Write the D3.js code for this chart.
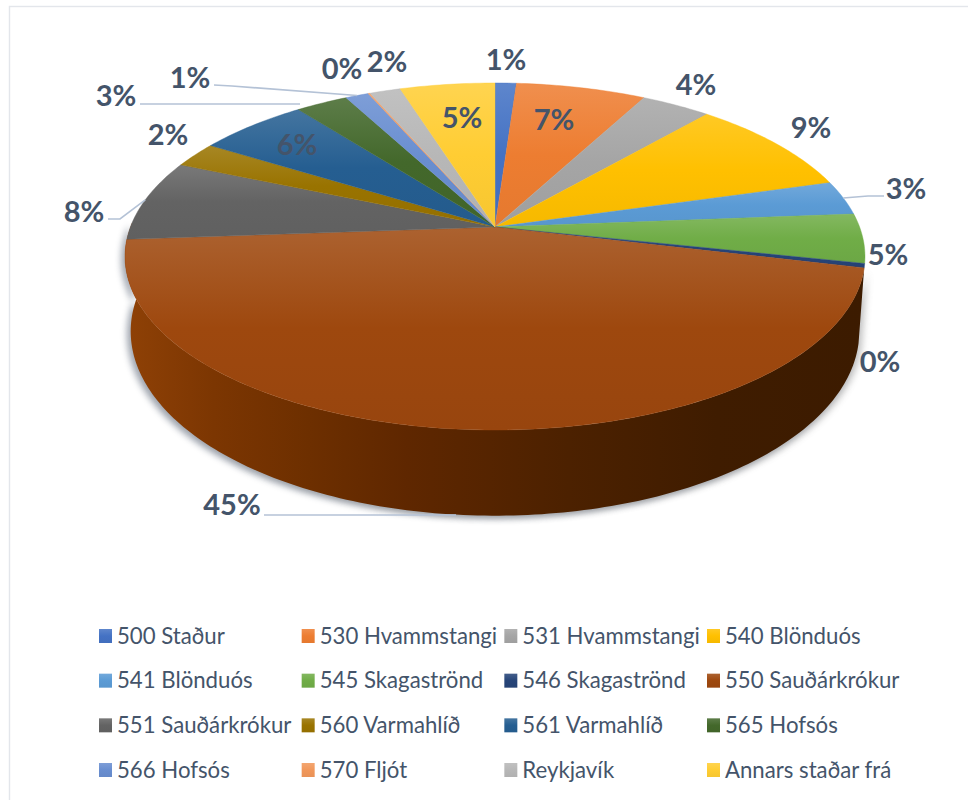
<!DOCTYPE html>
<html>
<head>
<meta charset="utf-8">
<script src="https://cdn.jsdelivr.net/npm/d3@7"></script>
<style>
html, body { margin: 0; padding: 0; background: #fff; }
svg { display: block; }
.lbl { font-family: Lato, sans-serif; font-weight: 700; font-size: 29px; fill: #44546a; text-anchor: middle; }
.leg { font-family: Lato, sans-serif; font-size: 22.2px; fill: #44546a; }
</style>
</head>
<body>
<div id="chart"></div>
<script>
var categories = ["500 Staður", "530 Hvammstangi", "531 Hvammstangi", "540 Blönduós",
    "541 Blönduós", "545 Skagaströnd", "546 Skagaströnd", "550 Sauðárkrókur",
    "551 Sauðárkrókur", "560 Varmahlíð", "561 Varmahlíð", "565 Hofsós",
    "566 Hofsós", "570 Fljót", "Reykjavík", "Annars staðar frá"];
var shares = [1.1, 6.7, 3.6, 9.2, 3.2, 4.6, 0.4, 45.2, 7.6, 2.4, 5.7, 2.7, 1.2, 0.1, 1.6, 4.9];
var shareLabels = ["1%", "7%", "4%", "9%", "3%", "5%", "0%", "45%", "8%", "2%", "6%", "3%", "1%", "0%", "2%", "5%"];
var colors = ["#4472c4", "#ed7d31", "#a5a5a5", "#ffc000", "#5b9bd5", "#70ad47", "#264478", "#9e480e",
    "#636363", "#997300", "#255e91", "#43682b", "#698ed0", "#f1975a", "#b7b7b7", "#ffcd33"];

// where each percent label sits, same order as categories
var labelSpots = [[506, 70], [554, 130], [696, 95], [811, 138], [906, 199], [888, 265], [880, 372], [232, 515],
    [84, 222], [168, 145], [297, 155], [116, 106], [190, 88], [342, 79], [387, 72], [462, 128]];
// leader lines, the ones marked toRim also run on to the edge of the slice
var leaders = [
    { slice: 4, pts: [[884, 196], [868, 196]], toRim: true },
    { slice: 7, pts: [[264, 515], [456, 515]], toRim: false },
    { slice: 8, pts: [[108, 219], [120, 219]], toRim: true },
    { slice: 11, pts: [[140, 104], [300, 104]], toRim: false },
    { slice: 12, pts: [[214, 85], [232, 86]], toRim: true }
];

var width = 968, height = 800;

var svg = d3.select("#chart").append("svg")
    .attr("width", width)
    .attr("height", height);

svg.append("rect")
    .attr("x", 9.5).attr("y", 6.5)
    .attr("width", width).attr("height", height)
    .attr("fill", "#fff").attr("stroke", "#e3e6eb").attr("stroke-width", 1.4);

var defs = svg.append("defs");

defs.append("filter").attr("id", "soft")
    .attr("x", "-10%").attr("y", "-10%").attr("width", "120%").attr("height", "120%")
    .append("feGaussianBlur").attr("stdDeviation", 3);

// perspective disc: apex at (cx, y0), tipped so the back is squeezed
function disc(cx, y0, a, b, c) {
    return function(ang) {
        var u = Math.sin(ang), v = Math.cos(ang), k = 1 + b * v;
        return [cx + c * u / k, y0 - a * v / k];
    };
}
var topDisc = disc(495, 227, 168.5, 0.17, 364.6);
var baseDisc = disc(495, 300, 179, 0.17, 359);

var line = d3.line();
var pie = d3.pie().sort(null)(shares);

function arcPoints(f, a0, a1) {
    var n = Math.max(2, Math.ceil(Math.abs(a1 - a0) * 60));
    return d3.range(n + 1).map(function(i) { return f(a0 + (a1 - a0) * i / n); });
}

// side wall of the big slice, the only one seen from the front
var big = pie[7];
var wallStart = big.startAngle, wallEnd = big.endAngle + 0.1;
var wallPts = arcPoints(topDisc, wallStart, wallEnd).concat(arcPoints(baseDisc, wallEnd, wallStart));

var wallGrad = defs.append("linearGradient").attr("id", "wall");
[[0, "#8f4106"], [0.12, "#7c3602"], [0.25, "#6d2f00"], [0.38, "#5f2700"], [0.6, "#4c2100"], [0.8, "#3f1c00"], [1, "#3c1b00"]].forEach(function(s) {
    wallGrad.append("stop").attr("offset", s[0]).attr("stop-color", s[1]);
});

svg.append("path")
    .attr("d", line(wallPts) + "Z")
    .attr("transform", "translate(-4,3)")
    .attr("fill", "#7f8794")
    .attr("opacity", 0.7)
    .attr("filter", "url(#soft)");
svg.append("path")
    .attr("d", line(wallPts) + "Z")
    .attr("transform", "translate(4,2)")
    .attr("fill", "#8c8c8c")
    .attr("opacity", 0.45)
    .attr("filter", "url(#soft)");
svg.append("path")
    .attr("d", line(wallPts) + "Z")
    .attr("fill", "url(#wall)");

// one vertical gradient per slice
function addGrad(id, col) {
    var g = defs.append("linearGradient").attr("id", id)
        .attr("x1", 0).attr("y1", 0).attr("x2", 0).attr("y2", 1);
    g.append("stop").attr("offset", 0).attr("stop-color", d3.interpolateRgb(col, "#fff")(0.14));
    g.append("stop").attr("offset", 0.5).attr("stop-color", col);
    g.append("stop").attr("offset", 1).attr("stop-color", d3.color(col).darker(0.1));
}
colors.forEach(function(c, i) { addGrad("slice" + i, c); });

svg.selectAll(".slice")
    .data(pie)
    .enter().append("path")
    .attr("class", "slice")
    .attr("d", function(d) {
        return line([[495, 227]].concat(arcPoints(topDisc, d.startAngle, d.endAngle))) + "Z";
    })
    .attr("fill", function(d, i) { return "url(#slice" + i + ")"; })
    .attr("stroke", function(d, i) { return colors[i]; })
    .attr("stroke-width", 0.4);

svg.selectAll(".leader")
    .data(leaders)
    .enter().append("path")
    .attr("class", "leader")
    .attr("d", function(l) {
        var d = pie[l.slice];
        if (!l.toRim) return line(l.pts);
        return line(l.pts.concat([topDisc((d.startAngle + d.endAngle) / 2)]));
    })
    .attr("fill", "none")
    .attr("stroke", "#b4c2d6")
    .attr("stroke-width", 1.6);

svg.selectAll(".lbl")
    .data(shareLabels)
    .enter().append("text")
    .attr("class", "lbl")
    .attr("x", function(d, i) { return labelSpots[i][0]; })
    .attr("y", function(d, i) { return labelSpots[i][1]; })
    .text(function(d) { return d; });

// legend, 4 columns by 4 rows
var legendX = d3.scalePoint().domain([0, 1, 2, 3]).range([99, 707]);
var legendY = d3.scalePoint().domain([0, 1, 2, 3]).range([636, 770]);

var legend = svg.selectAll(".legendItem")
    .data(categories)
    .enter().append("g")
    .attr("class", "legendItem")
    .attr("transform", function(d, i) {
        return "translate(" + legendX(i % 4) + "," + legendY(Math.floor(i / 4)) + ")";
    });

legend.append("rect")
    .attr("y", -7)
    .attr("width", 13)
    .attr("height", 14)
    .attr("fill", function(d, i) { return "url(#slice" + i + ")"; });

legend.append("text")
    .attr("class", "leg")
    .attr("x", 18)
    .attr("y", 7.5)
    .text(function(d) { return d; });
</script>
</body>
</html>
